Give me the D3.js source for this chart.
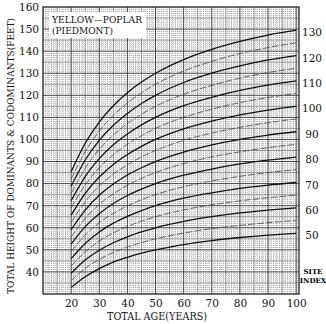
<!DOCTYPE html>
<html><head><meta charset="utf-8">
<script src="https://cdn.jsdelivr.net/npm/d3@7"></script>
<style>html,body{margin:0;padding:0;background:#fff;}svg{display:block;}</style>
</head><body>
<svg id="chart" width="326" height="324"></svg>
<script>
// ---- data ----
const ages = [20, 25, 30, 35, 40, 45, 50, 60, 70, 80, 90, 100];
const siteIndex = [50, 55, 60, 65, 70, 75, 80, 85, 90, 95, 100, 105, 110, 115, 120, 125, 130];
const h50  = [32.9, 37.8, 41.5, 44.4, 46.6, 48.5, 50, 52.4, 54.2, 55.6, 56.7, 57.5];
const h55  = [36.1, 41.6, 45.7, 48.8, 51.3, 53.3, 55, 57.6, 59.6, 61.1, 62.3, 63.3];
const h60  = [39.4, 45.4, 49.8, 53.2, 55.9, 58.1, 60, 62.9, 65.0, 66.7, 68.0, 69.0];
const h65  = [42.7, 49.1, 54.0, 57.7, 60.6, 63.0, 65, 68.1, 70.4, 72.2, 73.6, 74.8];
const h70  = [46.0, 52.9, 58.1, 62.1, 65.2, 67.8, 70, 73.4, 75.8, 77.8, 79.3, 80.5];
const h75  = [49.3, 56.7, 62.3, 66.5, 69.9, 72.7, 75, 78.6, 81.2, 83.3, 85.0, 86.3];
const h80  = [52.6, 60.5, 66.4, 71.0, 74.6, 77.5, 80, 83.8, 86.6, 88.9, 90.6, 92.0];
const h85  = [55.8, 64.3, 70.6, 75.4, 79.2, 82.4, 85, 89.1, 92.1, 94.4, 96.3, 97.8];
const h90  = [59.1, 68.0, 74.7, 79.8, 83.9, 87.2, 90, 94.3, 97.5, 100.0, 102.0, 103.5];
const h95  = [62.4, 71.8, 78.9, 84.3, 88.5, 92.1, 95, 99.6, 102.9, 105.5, 107.6, 109.3];
const h100 = [65.7, 75.6, 83.0, 88.7, 93.2, 96.9, 100, 104.8, 108.3, 111.1, 113.3, 115.0];
const h105 = [69.0, 79.4, 87.2, 93.1, 97.9, 101.7, 105, 110.0, 113.7, 116.7, 119.0, 120.8];
const h110 = [72.3, 83.2, 91.3, 97.6, 102.5, 106.6, 110, 115.3, 119.1, 122.2, 124.6, 126.5];
const h115 = [75.6, 86.9, 95.5, 102.0, 107.2, 111.4, 115, 120.5, 124.5, 127.8, 130.3, 132.3];
const h120 = [78.8, 90.7, 99.6, 106.4, 111.8, 116.3, 120, 125.8, 130.0, 133.3, 136.0, 138.0];
const h125 = [82.1, 94.5, 103.8, 110.9, 116.5, 121.1, 125, 131.0, 135.4, 138.9, 141.6, 143.8];
const h130 = [85.4, 98.3, 107.9, 115.3, 121.2, 126.0, 130, 136.2, 140.8, 144.4, 147.3, 149.5];
const heights = [h50, h55, h60, h65, h70, h75, h80, h85, h90, h95, h100, h105, h110, h115, h120, h125, h130];
const labelledIndex = [50, 60, 70, 80, 90, 100, 110, 120, 130];
const xTicks = [20, 30, 40, 50, 60, 70, 80, 90, 100];
const yTicks = [40, 50, 60, 70, 80, 90, 100, 110, 120, 130, 140, 150, 160];
const titleLines = ["YELLOW\u2014POPLAR", "(PIEDMONT)"];
const xTitle = "TOTAL AGE(YEARS)";
const yTitle = "TOTAL HEIGHT OF DOMINANTS & CODOMINANTS(FEET)";

// ---- drawing ----
const svg = d3.select("#chart");
const L = 43, R = 299, T = 7, B = 294;
const x = d3.scaleLinear().domain([10, 101]).range([L, R]);
const y = d3.scaleLinear().domain([30, 160]).range([B, T]);
const serif = "'DejaVu Serif', 'Liberation Serif', serif";

svg.append("rect").attr("width", 326).attr("height", 324).attr("fill", "#fff");

const grid = svg.append("g");
// fine dotted grid (every unit)
const xs1 = d3.range(11, 101, 1).filter(v => v % 5 !== 0);
const ys1 = d3.range(31, 160, 1).filter(v => v % 5 !== 0);
grid.selectAll(".vx1").data(xs1).join("line")
  .attr("x1", d => x(d)).attr("x2", d => x(d)).attr("y1", T).attr("y2", B)
  .attr("stroke", "#858585").attr("stroke-width", 0.6).attr("stroke-dasharray", "1,1");
grid.selectAll(".hy1").data(ys1).join("line")
  .attr("y1", d => y(d)).attr("y2", d => y(d)).attr("x1", L).attr("x2", R)
  .attr("stroke", "#858585").attr("stroke-width", 0.6).attr("stroke-dasharray", "1,1");
// 5-unit lines
const xs5 = d3.range(15, 101, 10);
const ys5 = d3.range(35, 160, 10);
grid.selectAll(".vx5").data(xs5).join("line")
  .attr("x1", d => x(d)).attr("x2", d => x(d)).attr("y1", T).attr("y2", B)
  .attr("stroke", "#7a7a7a").attr("stroke-width", 0.8);
grid.selectAll(".hy5").data(ys5).join("line")
  .attr("y1", d => y(d)).attr("y2", d => y(d)).attr("x1", L).attr("x2", R)
  .attr("stroke", "#7a7a7a").attr("stroke-width", 0.8);
// 10-unit lines
const xs10 = d3.range(20, 101, 10);
const ys10 = d3.range(40, 160, 10);
grid.selectAll(".vx10").data(xs10).join("line")
  .attr("x1", d => x(d)).attr("x2", d => x(d)).attr("y1", T).attr("y2", B)
  .attr("stroke", "#333").attr("stroke-width", 0.9);
grid.selectAll(".hy10").data(ys10).join("line")
  .attr("y1", d => y(d)).attr("y2", d => y(d)).attr("x1", L).attr("x2", R)
  .attr("stroke", "#333").attr("stroke-width", 0.9);

// title box
const tb = svg.append("g");
tb.append("rect").attr("x", 49).attr("y", 12).attr("width", 97).attr("height", 26).attr("fill", "#fff");
tb.selectAll("text").data(titleLines).join("text")
  .attr("x", 52).attr("y", (d, i) => 23 + i * 11)
  .attr("font-family", serif).attr("font-size", 9.5).attr("fill", "#111")
  .attr("textLength", (d, i) => i === 0 ? 90 : 61).attr("lengthAdjust", "spacingAndGlyphs")
  .text(d => d);

// curves
const line = d3.line().x((d, i) => x(ages[i])).y(d => y(d)).curve(d3.curveMonotoneX);
svg.append("g").selectAll("path").data(heights).join("path")
  .attr("d", d => line(d))
  .attr("fill", "none")
  .attr("stroke", (d, i) => siteIndex[i] % 10 === 0 ? "#111" : "#444")
  .attr("stroke-width", (d, i) => siteIndex[i] % 10 === 0 ? 1.3 : 0.8)
  .attr("stroke-dasharray", (d, i) => siteIndex[i] % 10 === 0 ? null : "7,2");

// frame
svg.append("rect").attr("x", L).attr("y", T).attr("width", R - L).attr("height", B - T)
  .attr("fill", "none").attr("stroke", "#111").attr("stroke-width", 1.2);

// axes
const ax = svg.append("g").attr("transform", `translate(0,${B})`)
  .call(d3.axisBottom(x).tickValues(xTicks).tickSize(0).tickPadding(6));
ax.select(".domain").remove();
ax.selectAll("text").attr("font-family", serif).attr("font-size", 10.5).attr("fill", "#111");

const ay = svg.append("g").attr("transform", `translate(${L},0)`)
  .call(d3.axisLeft(y).tickValues(yTicks).tickSize(0).tickPadding(4));
ay.select(".domain").remove();
ay.selectAll("text").attr("font-family", serif).attr("font-size", 10.5).attr("fill", "#111");

// site index labels
svg.append("g").selectAll("text").data(labelledIndex).join("text")
  .attr("x", 312).attr("y", d => y(heights[siteIndex.indexOf(d)][ages.length - 1]) + 6)
  .attr("text-anchor", "middle")
  .attr("font-family", serif).attr("font-size", 10.5).attr("fill", "#111")
  .text(d => d);
svg.append("text").attr("x", 313).attr("y", 274).attr("text-anchor", "middle")
  .attr("font-family", serif).attr("font-size", 7).attr("font-weight", "bold").text("SITE");
svg.append("text").attr("x", 313).attr("y", 283).attr("text-anchor", "middle")
  .attr("font-family", serif).attr("font-size", 7).attr("font-weight", "bold").text("INDEX");

// axis titles
svg.append("text").attr("x", 157).attr("y", 320).attr("text-anchor", "middle")
  .attr("font-family", serif).attr("font-size", 10.5).attr("fill", "#111")
  .attr("textLength", 100).attr("lengthAdjust", "spacingAndGlyphs").text(xTitle);
svg.append("text").attr("transform", "translate(14,156) rotate(-90)").attr("text-anchor", "middle")
  .attr("font-family", serif).attr("font-size", 9.5).attr("fill", "#111")
  .attr("textLength", 276).attr("lengthAdjust", "spacingAndGlyphs").text(yTitle);
</script>
</body></html>
